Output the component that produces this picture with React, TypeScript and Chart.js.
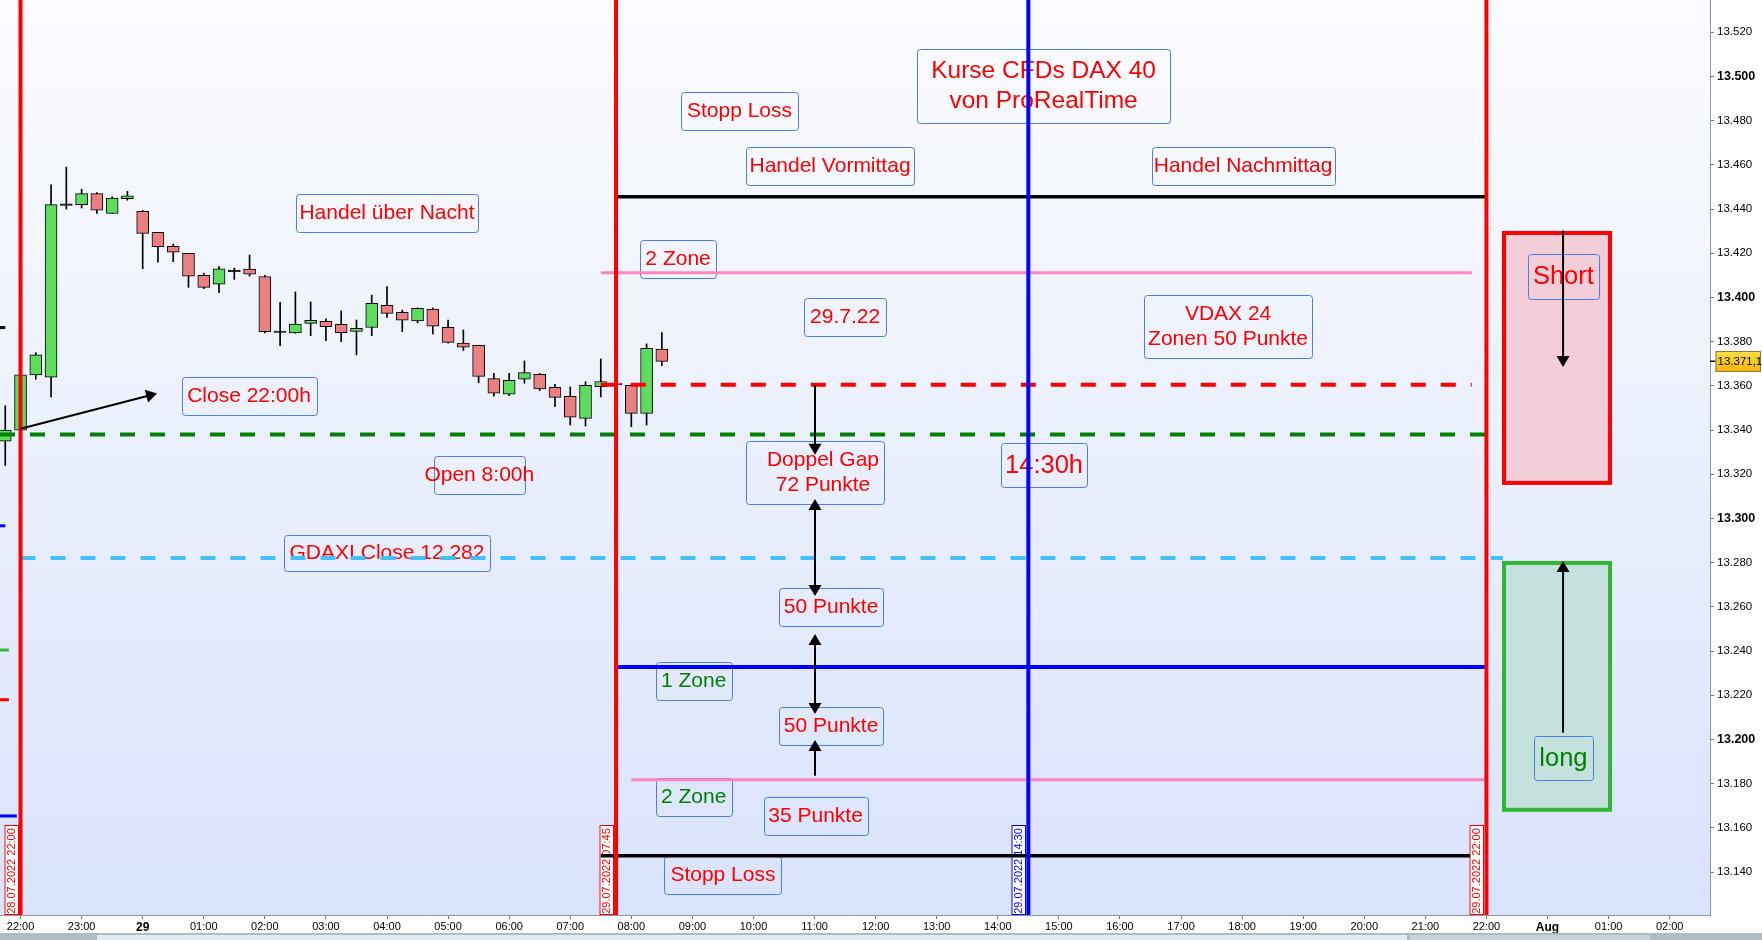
import React, { useEffect, useRef } from 'react';
import { Chart, registerables } from 'chart.js';

Chart.register(...registerables);

// x values: hours after 28.07.2022 22:00 (15-minute candles)
const X_MIN = -0.336;
const X_MAX = 27.66;
const Y_MIN = 13120.6;
const Y_MAX = 13534.6;

const X_TICK_VALUES = [0, 1, 2, 3, 4, 5, 6, 7, 8, 9, 10, 11, 12, 13, 14, 15, 16, 17, 18, 19, 20, 21, 22, 23, 24, 25, 26, 27];
const X_TICK_LABELS = ['22:00', '23:00', '29', '01:00', '02:00', '03:00', '04:00', '05:00', '06:00', '07:00', '08:00', '09:00', '10:00', '11:00', '12:00', '13:00', '14:00', '15:00', '16:00', '17:00', '18:00', '19:00', '20:00', '21:00', '22:00', 'Aug', '01:00', '02:00'];
const X_BOLD_LABELS = ['29', 'Aug'];

const Y_TICK_VALUES = [13140, 13160, 13180, 13200, 13220, 13240, 13260, 13280, 13300, 13320, 13340, 13360, 13380, 13400, 13420, 13440, 13460, 13480, 13500, 13520];
const Y_TICK_LABELS = ['13.140', '13.160', '13.180', '13.200', '13.220', '13.240', '13.260', '13.280', '13.300', '13.320', '13.340', '13.360', '13.380', '13.400', '13.420', '13.440', '13.460', '13.480', '13.500', '13.520'];

const CANDLE_TIMES = [-0.25, 0, 0.25, 0.5, 0.75, 1, 1.25, 1.5, 1.75, 2, 2.25, 2.5, 2.75, 3, 3.25, 3.5, 3.75, 4, 4.25, 4.5, 4.75, 5, 5.25, 5.5, 5.75, 6, 6.25, 6.5, 6.75, 7, 7.25, 7.5, 7.75, 8, 8.25, 8.5, 8.75, 9, 9.25, 9.5, 9.75, 10, 10.25, 10.5];
const OPEN = [13335, 13340, 13365, 13364, 13442, 13442, 13447, 13438, 13444.7, 13439, 13429.5, 13423.2, 13420, 13410, 13406, 13412, 13412.8, 13409.5, 13384.5, 13384, 13388.3, 13389.2, 13387.9, 13384.7, 13386.4, 13396.5, 13393.3, 13389.4, 13394.7, 13386.5, 13379.4, 13378.4, 13363.3, 13356.2, 13363, 13365.2, 13359.4, 13355.3, 13345.3, 13359.6, 13361.3, 13360.3, 13347.5, 13376.6];
const HIGH = [13351, 13366, 13375, 13451, 13459, 13449, 13447.5, 13445.5, 13448, 13439.5, 13429.5, 13424.2, 13420, 13411, 13414, 13413.3, 13419.2, 13410, 13397.8, 13402.5, 13398, 13390.3, 13393.9, 13389.8, 13401.1, 13404.9, 13394.3, 13395.3, 13395.3, 13389.8, 13385.3, 13378.4, 13365.7, 13365.7, 13371.3, 13365.7, 13360.7, 13359.5, 13361.9, 13372.2, 13361.3, 13360.5, 13379, 13384.1];
const LOW = [13324, 13339, 13363, 13355, 13440, 13440.5, 13438, 13438, 13444, 13413, 13416, 13416.2, 13404.6, 13404, 13402.2, 13408.2, 13409.7, 13384, 13378.2, 13383.8, 13382.7, 13380.5, 13380, 13374, 13382.7, 13391, 13384.5, 13388.5, 13383.5, 13379.3, 13376, 13361.4, 13355.3, 13355.6, 13361.2, 13357.8, 13350.6, 13342.3, 13341.9, 13355, 13360.5, 13341.5, 13342.3, 13369.1];
const CLOSE = [13340, 13365, 13374, 13442, 13442, 13447, 13439.5, 13445, 13446, 13429, 13423, 13420.5, 13409.6, 13404.6, 13413, 13412, 13410.5, 13384.5, 13384.5, 13388, 13389.7, 13386.8, 13384.1, 13386, 13397.4, 13392.8, 13389.7, 13395.1, 13387, 13379.7, 13377.5, 13364.3, 13356.7, 13362.5, 13366, 13358.6, 13354.8, 13345.8, 13360.3, 13362, 13360.5, 13347.6, 13377, 13371.1];
const LAST_PRICE_LABEL = '13.371,1';

// horizontal levels
const LEVEL_PRICES = [13445.6, 13411.2, 13360.5, 13338, 13282.1, 13232.8, 13181.8, 13147.4];
const LEVEL_FROM = [9.75, 9.5, 9.5, X_MIN, 0, 9.75, 10.0, 9.5];
const LEVEL_TO = [24, 23.76, 23.76, 24.06, 24.27, 24, 24, 23.73];
const LEVEL_STYLES = [
  { color: '#000000', width: 3.5, dash: [] as number[] },
  { color: '#ff85c2', width: 3, dash: [] as number[] },
  { color: '#ff0000', width: 4, dash: [15, 15] },
  { color: '#008000', width: 4, dash: [15, 15] },
  { color: '#44c0f8', width: 4, dash: [15, 15] },
  { color: '#0000ff', width: 4, dash: [] as number[] },
  { color: '#ff85c2', width: 3, dash: [] as number[] },
  { color: '#000000', width: 3.5, dash: [] as number[] },
];

// short stubs at the left border
const STUB_PRICES = [13386.4, 13296.7, 13240.5, 13218, 13165.4];
const STUB_TO = [-0.25, -0.25, -0.19, -0.19, -0.06];
const STUB_COLORS = ['#000000', '#0000ff', '#3cb43c', '#ff0000', '#0000ff'];

// vertical time lines
const VLINE_TIMES = [0, 9.75, 16.5, 24];
const VLINE_LABELS = ['28.07.2022 22:00', '29.07.2022 07:45', '29.07.2022 14:30', '29.07.2022 22:00'];
const VLINE_COLORS = ['#ff0000', '#ff0000', '#0000ff', '#ff0000'];

// short / long zones
const ZONE_FROM = 24.255;
const ZONE_TO = 26.056;
const SHORT_ZONE = [13315.2, 13430.1];
const LONG_ZONE = [13167.3, 13280.8];

// arrows [x1, y1, x2, y2, headAtStart, headAtEnd]
const ARROWS: [number, number, number, number, boolean, boolean][] = [
  [0, 13340.6, 2.235, 13356.6, false, true],
  [13.007, 13360.4, 13.007, 13328.8, false, true],
  [13.007, 13308.8, 13.007, 13264.9, true, true],
  [13.007, 13247.7, 13.007, 13211.5, true, true],
  [13.007, 13183.6, 13.007, 13199.8, false, true],
  [25.254, 13430.3, 25.254, 13368.5, false, true],
  [25.254, 13203.1, 25.254, 13280.8, false, true],
];

type Note = { lines: string[]; x: number; y: number; w: number; h: number; color: string; size: number; gap?: number; dx?: number };
const RED = '#ff0000';
const GREEN = '#008000';
const NOTES: Note[] = [
  { lines: ['Stopp Loss'], x: 11.771, y: 13484.6, w: 117, h: 38, color: RED, size: 21 },
  { lines: ['Kurse CFDs DAX 40', 'von ProRealTime'], x: 16.749, y: 13495.7, w: 253, h: 74, color: RED, size: 24.5, gap: 29.7 },
  { lines: ['Handel Vormittag'], x: 13.253, y: 13459.5, w: 168, h: 38, color: RED, size: 21 },
  { lines: ['Handel Nachmittag'], x: 20.015, y: 13459.5, w: 183, h: 38, color: RED, size: 21 },
  { lines: ['Handel über Nacht'], x: 6.0, y: 13438.2, w: 182, h: 38, color: RED, size: 21 },
  { lines: ['2 Zone'], x: 10.765, y: 13417.4, w: 76, h: 38, color: RED, size: 21 },
  { lines: ['29.7.22'], x: 13.5, y: 13391.2, w: 82, h: 38, color: RED, size: 21 },
  { lines: ['VDAX 24', 'Zonen 50 Punkte'], x: 19.77, y: 13386.9, w: 168, h: 63, color: RED, size: 21, gap: 24.7 },
  { lines: ['Close 22:00h'], x: 3.741, y: 13355.4, w: 135, h: 38, color: RED, size: 21 },
  { lines: ['Doppel Gap', '72 Punkte'], x: 13.007, y: 13320.8, w: 138, h: 63, color: RED, size: 21, gap: 24.8, dx: 8 },
  { lines: ['14:30h'], x: 16.757, y: 13324.2, w: 86, h: 44, color: RED, size: 25.5 },
  { lines: ['Open 8:00h'], x: 7.511, y: 13319.6, w: 91, h: 38, color: RED, size: 21 },
  { lines: ['GDAXI Close 12.282'], x: 6.0, y: 13284.2, w: 206, h: 36, color: RED, size: 21 },
  { lines: ['50 Punkte'], x: 13.27, y: 13260, w: 104, h: 38, color: RED, size: 21 },
  { lines: ['1 Zone'], x: 11.02, y: 13226.5, w: 76, h: 38, color: GREEN, size: 21 },
  { lines: ['50 Punkte'], x: 13.27, y: 13205.9, w: 104, h: 38, color: RED, size: 21 },
  { lines: ['2 Zone'], x: 11.02, y: 13174, w: 76, h: 38, color: GREEN, size: 21 },
  { lines: ['35 Punkte'], x: 13.016, y: 13165.4, w: 104, h: 38, color: RED, size: 21 },
  { lines: ['Stopp Loss'], x: 11.5, y: 13138.8, w: 117, h: 38, color: RED, size: 21 },
  { lines: ['Short'], x: 25.26, y: 13409.5, w: 71, h: 45, color: RED, size: 25.5 },
  { lines: ['long'], x: 25.26, y: 13191.6, w: 59, h: 44, color: GREEN, size: 25.5 },
];

const FONT = '"Liberation Sans", Arial, sans-serif';

function drawArrowHead(ctx: CanvasRenderingContext2D, x: number, y: number, angle: number) {
  const L = 11;
  const W = 6.5;
  const bx = x - L * Math.cos(angle);
  const by = y - L * Math.sin(angle);
  ctx.beginPath();
  ctx.moveTo(x, y);
  ctx.lineTo(bx + W * Math.sin(angle), by - W * Math.cos(angle));
  ctx.lineTo(bx - W * Math.sin(angle), by + W * Math.cos(angle));
  ctx.closePath();
  ctx.fill();
}

const overlayPlugin = {
  id: 'overlay',
  beforeDraw(chart: any) {
    const { ctx, chartArea: a, width, height } = chart;
    ctx.save();
    ctx.fillStyle = '#ffffff';
    ctx.fillRect(0, 0, width, height);
    const g = ctx.createLinearGradient(0, a.top, 0, a.bottom);
    g.addColorStop(0, '#fbfcff');
    g.addColorStop(1, '#d9e3fb');
    ctx.fillStyle = g;
    ctx.fillRect(a.left, a.top, a.right - a.left, a.bottom - a.top);
    ctx.restore();
  },
  beforeDatasetsDraw(chart: any) {
    const { ctx, chartArea: a } = chart;
    const xs = chart.scales.x;
    const ys = chart.scales.y;
    ctx.save();
    ctx.beginPath();
    ctx.rect(a.left, a.top, a.right - a.left, a.bottom - a.top);
    ctx.clip();
    // zones
    const zx1 = xs.getPixelForValue(ZONE_FROM);
    const zx2 = xs.getPixelForValue(ZONE_TO);
    const zones = [
      { r: SHORT_ZONE, fill: '#f3cdd7', stroke: '#ff0000' },
      { r: LONG_ZONE, fill: '#c5e1de', stroke: '#33b433' },
    ];
    zones.forEach((z) => {
      const yTop = ys.getPixelForValue(z.r[1]);
      const yBot = ys.getPixelForValue(z.r[0]);
      ctx.fillStyle = z.fill;
      ctx.fillRect(zx1, yTop, zx2 - zx1, yBot - yTop);
      ctx.strokeStyle = z.stroke;
      ctx.lineWidth = 4;
      ctx.strokeRect(zx1 + 2, yTop + 2, zx2 - zx1 - 4, yBot - yTop - 4);
    });
    // vertical line labels
    VLINE_TIMES.forEach((t, i) => {
      const lx = xs.getPixelForValue(t);
      const bw = 14.5;
      const bh = 90;
      const right = Math.round(lx - 2);
      const left = right - bw;
      const bottom = a.bottom;
      const top = bottom - bh;
      ctx.fillStyle = '#ffffff';
      ctx.fillRect(left, top, bw, bh);
      ctx.strokeStyle = VLINE_COLORS[i];
      ctx.lineWidth = 1;
      ctx.strokeRect(left + 0.5, top + 0.5, bw - 1, bh - 1);
      ctx.save();
      ctx.translate(left + bw / 2 + 0.5, top + bh / 2 + 1);
      ctx.rotate(-Math.PI / 2);
      ctx.fillStyle = VLINE_COLORS[i];
      ctx.font = `11px ${FONT}`;
      ctx.textAlign = 'center';
      ctx.textBaseline = 'middle';
      ctx.fillText(VLINE_LABELS[i], 0, 0);
      ctx.restore();
    });
    // notes
    NOTES.forEach((n) => {
      const cx = xs.getPixelForValue(n.x);
      const cy = ys.getPixelForValue(n.y);
      const bx = Math.round(cx - n.w / 2) + 0.5;
      const by = Math.round(cy - n.h / 2) + 0.5;
      ctx.strokeStyle = '#4d7de6';
      ctx.lineWidth = 1;
      ctx.beginPath();
      if ((ctx as any).roundRect) (ctx as any).roundRect(bx, by, n.w, n.h, 3);
      else ctx.rect(bx, by, n.w, n.h);
      ctx.stroke();
      ctx.fillStyle = n.color;
      ctx.font = `${n.size}px ${FONT}`;
      ctx.textAlign = 'center';
      ctx.textBaseline = 'alphabetic';
      const cnt = n.lines.length;
      const gap = n.gap || 0;
      n.lines.forEach((ln, i) => {
        const capC = cy + (i - (cnt - 1) / 2) * gap - 1.5;
        ctx.fillText(ln, cx + (n.dx || 0), capC + 0.358 * n.size);
      });
    });
    ctx.restore();
  },
  afterDatasetsDraw(chart: any) {
    const { ctx, chartArea: a } = chart;
    const xs = chart.scales.x;
    const ys = chart.scales.y;
    ctx.save();
    ctx.beginPath();
    ctx.rect(a.left, a.top, a.right - a.left, a.bottom - a.top);
    ctx.clip();
    ctx.strokeStyle = '#000000';
    ctx.fillStyle = '#000000';
    ctx.lineWidth = 2;
    ARROWS.forEach(([x1, y1, x2, y2, h1, h2]) => {
      const p1x = xs.getPixelForValue(x1);
      const p1y = ys.getPixelForValue(y1);
      const p2x = xs.getPixelForValue(x2);
      const p2y = ys.getPixelForValue(y2);
      const ang = Math.atan2(p2y - p1y, p2x - p1x);
      const sx = h1 ? p1x + 9 * Math.cos(ang) : p1x;
      const sy = h1 ? p1y + 9 * Math.sin(ang) : p1y;
      const ex = h2 ? p2x - 9 * Math.cos(ang) : p2x;
      const ey = h2 ? p2y - 9 * Math.sin(ang) : p2y;
      ctx.beginPath();
      ctx.moveTo(sx, sy);
      ctx.lineTo(ex, ey);
      ctx.stroke();
      if (h2) drawArrowHead(ctx, p2x, p2y, ang);
      if (h1) drawArrowHead(ctx, p1x, p1y, ang + Math.PI);
    });
    ctx.restore();
  },
  afterDraw(chart: any) {
    const { ctx, chartArea: a, width, height } = chart;
    const ys = chart.scales.y;
    ctx.save();
    // last price tag
    const py = Math.round(ys.getPixelForValue(CLOSE[CLOSE.length - 1]));
    ctx.fillStyle = '#000000';
    ctx.fillRect(a.right, py - 0.5, 6, 1.5);
    const tx = a.right + 5.5;
    const tw = width - tx - 1;
    const g = ctx.createLinearGradient(0, py - 10, 0, py + 11);
    g.addColorStop(0, '#ffe04a');
    g.addColorStop(1, '#f2b400');
    ctx.fillStyle = g;
    ctx.fillRect(tx, py - 10, tw, 21);
    ctx.strokeStyle = '#8c7a3c';
    ctx.lineWidth = 1;
    ctx.strokeRect(tx + 0.5, py - 9.5, tw - 1, 20);
    ctx.fillStyle = '#000000';
    ctx.font = `11.5px ${FONT}`;
    ctx.textAlign = 'left';
    ctx.textBaseline = 'middle';
    ctx.fillText(LAST_PRICE_LABEL, tx + 2, py + 1);
    // bottom tool strip
    ctx.fillStyle = '#aebcc4';
    ctx.fillRect(0, height - 7, width, 7);
    ctx.fillStyle = '#e3e9ed';
    ctx.fillRect(97, height - 5, 1310, 5);
    ctx.fillStyle = '#c9d3d9';
    ctx.fillRect(1410, height - 5, 240, 5);
    ctx.restore();
  },
};

export default function App() {
  const ref = useRef<HTMLCanvasElement | null>(null);

  useEffect(() => {
    document.body.style.margin = '0';
    const canvas = ref.current;
    if (!canvas) return;

    const bodyColors = OPEN.map((o, i) => (CLOSE[i] > o ? '#5edc5e' : CLOSE[i] < o ? '#ec8080' : '#000000'));
    const bodies = OPEN.map((o, i) => ({
      x: CANDLE_TIMES[i],
      y: CLOSE[i] === o ? [o - 0.35, o + 0.35] : [o, CLOSE[i]],
    }));
    const wicks = OPEN.map((_, i) => ({ x: CANDLE_TIMES[i], y: [LOW[i], HIGH[i]] }));

    const levelSets = LEVEL_PRICES.map((p, i) => ({
      type: 'line' as const,
      data: [{ x: LEVEL_FROM[i], y: p }, { x: LEVEL_TO[i], y: p }],
      borderColor: LEVEL_STYLES[i].color,
      borderWidth: LEVEL_STYLES[i].width,
      borderDash: LEVEL_STYLES[i].dash,
      pointRadius: 0,
      fill: false,
      order: 1,
    }));
    const stubSets = STUB_PRICES.map((p, i) => ({
      type: 'line' as const,
      data: [{ x: X_MIN, y: p }, { x: STUB_TO[i], y: p }],
      borderColor: STUB_COLORS[i],
      borderWidth: 3,
      pointRadius: 0,
      fill: false,
      order: 1,
    }));
    const vSets = VLINE_TIMES.map((t, i) => ({
      type: 'line' as const,
      data: [{ x: t, y: Y_MIN }, { x: t, y: Y_MAX }],
      borderColor: VLINE_COLORS[i],
      borderWidth: 4,
      pointRadius: 0,
      fill: false,
      order: 0,
    }));

    const chart = new Chart(canvas, {
      type: 'bar',
      data: {
        datasets: [
          ...vSets,
          ...levelSets,
          ...stubSets,
          {
            type: 'bar',
            data: bodies as any,
            backgroundColor: bodyColors,
            borderColor: '#000000',
            borderWidth: 1,
            borderSkipped: false,
            barThickness: 12,
            grouped: false,
            order: 2,
          } as any,
          {
            type: 'bar',
            data: wicks as any,
            backgroundColor: '#000000',
            borderWidth: 0,
            barThickness: 1,
            grouped: false,
            order: 3,
          } as any,
        ],
      },
      options: {
        responsive: false,
        animation: false,
        devicePixelRatio: 1,
        events: [],
        layout: { padding: 0 },
        plugins: {
          legend: { display: false },
          tooltip: { enabled: false },
          title: { display: false },
        },
        scales: {
          x: {
            type: 'linear',
            position: 'bottom',
            min: X_MIN,
            max: X_MAX,
            offset: false,
            grid: { display: true, drawOnChartArea: false, drawTicks: true, tickLength: 4, tickColor: '#6f7f8c', offset: false },
            border: { display: true, color: '#8a99a6', width: 1 },
            afterBuildTicks: (s: any) => {
              s.ticks = X_TICK_VALUES.map((v) => ({ value: v }));
            },
            afterFit: (s: any) => {
              s.height = 25;
              s.paddingLeft = 0;
              s.paddingRight = 0;
            },
            ticks: {
              autoSkip: false,
              maxRotation: 0,
              minRotation: 0,
              padding: 1,
              color: '#000000',
              font: (c: any) => {
                const idx = X_TICK_VALUES.indexOf(c.tick ? c.tick.value : -99);
                const bold = idx >= 0 && X_BOLD_LABELS.includes(X_TICK_LABELS[idx]);
                return { family: FONT, size: bold ? 12 : 11, weight: bold ? 'bold' : 'normal' } as any;
              },
              callback: (v: any) => {
                const idx = X_TICK_VALUES.indexOf(Number(v));
                return idx >= 0 ? X_TICK_LABELS[idx] : '';
              },
            },
          },
          y: {
            type: 'linear',
            position: 'right',
            min: Y_MIN,
            max: Y_MAX,
            grid: { display: true, drawOnChartArea: false, drawTicks: true, tickLength: 4, tickColor: '#6f7f8c' },
            border: { display: true, color: '#8a99a6', width: 1 },
            afterBuildTicks: (s: any) => {
              s.ticks = Y_TICK_VALUES.map((v) => ({ value: v }));
            },
            afterFit: (s: any) => {
              s.width = 52;
              s.paddingTop = 0;
              s.paddingBottom = 0;
            },
            ticks: {
              padding: 3,
              color: '#000000',
              font: (c: any) => {
                const bold = c.tick && c.tick.value % 100 === 0;
                return { family: FONT, size: bold ? 12.5 : 11.5, weight: bold ? 'bold' : 'normal' } as any;
              },
              callback: (v: any) => {
                const idx = Y_TICK_VALUES.indexOf(Number(v));
                return idx >= 0 ? Y_TICK_LABELS[idx] : '';
              },
            },
          },
        },
      },
      plugins: [overlayPlugin],
    });

    return () => chart.destroy();
  }, []);

  return (
    <div style={{ width: 1762, height: 940, position: 'relative', overflow: 'hidden' }}>
      <canvas ref={ref} width={1762} height={940} style={{ display: 'block', width: 1762, height: 940 }} />
    </div>
  );
}
